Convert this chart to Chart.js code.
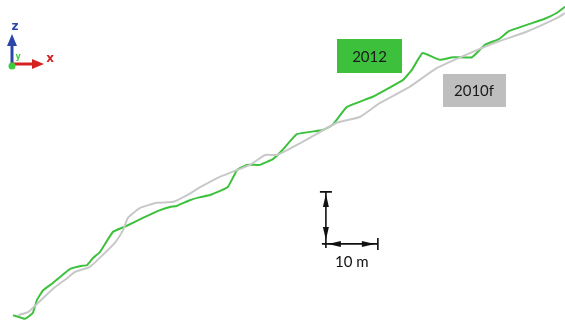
<!DOCTYPE html>
<html>
<head>
<meta charset="utf-8">
<script src="https://cdn.jsdelivr.net/npm/chart.js@4"></script>
<style>
  html, body { margin: 0; padding: 0; background: #fff; }
  #wrap { width: 565px; height: 324px; }
</style>
</head>
<body>
<div id="wrap"><canvas id="profileChart" width="565" height="324"></canvas></div>
<script>
// profile: distance along section (m) and height (m)
const profile2012X = [2.5, 4.8, 6.3, 7.1, 8.3, 10.2, 11.5, 13.5, 15.8, 16.7, 17.9, 19.2, 21.7, 24.0, 27.5, 30.8, 32.7, 34.0, 36.5, 38.5, 40.4, 43.8, 45.6, 47.5, 50.0, 52.5, 54.4, 57.1, 62.1, 64.0, 66.7, 71.7, 77.5, 79.2, 81.3, 84.6, 87.1, 90.8, 93.3, 96.0, 97.9, 101.9, 104.8, 107.1, 108.7];
const profile2012Z = [1.7, 1.0, 2.1, 4.6, 6.5, 7.9, 9.0, 10.6, 11.2, 11.3, 12.7, 13.8, 17.7, 18.7, 20.4, 21.9, 22.5, 22.7, 23.8, 24.4, 24.8, 26.3, 29.6, 30.6, 30.6, 31.7, 33.5, 36.5, 37.3, 38.3, 41.7, 43.7, 46.9, 48.8, 52.1, 50.8, 51.3, 51.3, 53.7, 54.8, 56.3, 57.7, 58.7, 59.8, 61.0];

const profile2010X = [3.5, 5.4, 6.3, 8.3, 10.6, 12.9, 14.4, 17.3, 19.8, 22.1, 23.7, 24.6, 26.9, 30.2, 33.3, 36.0, 38.5, 42.3, 48.1, 51.0, 53.3, 56.3, 59.6, 64.8, 69.2, 73.1, 78.8, 84.0, 90.4, 95.6, 101.3, 107.1, 108.7];
const profile2010Z = [1.7, 2.3, 3.1, 5.0, 7.1, 8.8, 10.0, 11.0, 13.3, 15.6, 18.1, 20.4, 22.3, 23.3, 23.5, 24.8, 26.3, 28.3, 30.6, 32.5, 32.5, 34.0, 35.8, 38.7, 39.8, 42.5, 45.6, 49.2, 52.1, 54.2, 56.2, 58.8, 59.8];

const seriesNames = ['2012', '2010f'];
const scaleBarLength = 10; // m
const scaleBarLabel = '10 m';

const toPoints = (xs, zs) => xs.map((x, i) => ({ x: x, y: zs[i] }));

const COLOR_2012 = '#3dc13d';
const COLOR_2010 = '#c8c8c8';

// labels, scale bar and orientation glyph drawn on top of the lines
const overlayPlugin = {
    id: 'overlay',
    afterDatasetsDraw(chart) {
        const c = chart.ctx;
        const xs = chart.scales.x, ys = chart.scales.y;
        const px = v => xs.getPixelForValue(v);
        const py = v => ys.getPixelForValue(v);

        // series tags
        function tag(text, cx, cy, w, h, fill) {
            const x = px(cx), y = py(cy);
            c.save();
            c.fillStyle = fill;
            c.fillRect(Math.round(x - w / 2), Math.round(y - h / 2), w, h);
            c.fillStyle = '#1a1a1a';
            c.font = '15px Lato, "Open Sans", sans-serif';
            c.textAlign = 'center';
            c.textBaseline = 'middle';
            c.fillText(text, x, y + 1);
            c.restore();
        }
        tag(seriesNames[0], 71.1, 51.5, 65, 34, COLOR_2012);
        tag(seriesNames[1], 91.2, 44.9, 63, 33, '#bebebe');

        // scale bar, 10 m in both directions
        const ox = px(62.7), oy = py(15.4);
        const ex = px(62.7 + scaleBarLength), ty = py(15.4 + scaleBarLength);
        c.save();
        c.strokeStyle = '#111';
        c.fillStyle = '#111';
        c.lineWidth = 1.6;
        c.beginPath();
        c.moveTo(ox, oy + 4); c.lineTo(ox, ty);
        c.moveTo(ox - 6, ty); c.lineTo(ox + 6, ty);
        c.moveTo(ox - 4, oy); c.lineTo(ex, oy);
        c.moveTo(ex, oy - 6); c.lineTo(ex, oy + 6);
        c.stroke();
        function head(x, y, dx, dy) {
            const len = 13, half = 3;
            c.beginPath();
            c.moveTo(x, y);
            c.lineTo(x - dx * len - dy * half, y - dy * len - dx * half);
            c.lineTo(x - dx * len + dy * half, y - dy * len + dx * half);
            c.closePath();
            c.fill();
        }
        head(ox, ty + 2, 0, -1);
        head(ox, oy - 4, 0, 1);
        head(ox + 2, oy, -1, 0);
        head(ex - 3, oy, 1, 0);
        c.font = '15px Lato, "Open Sans", sans-serif';
        c.textAlign = 'center';
        c.textBaseline = 'middle';
        c.fillText(scaleBarLabel, (ox + ex) / 2, oy + 18);
        c.restore();

        // orientation glyph (z up, x right, y into the page)
        const gx = 12, gy = 64;
        c.save();
        c.lineWidth = 3;
        c.strokeStyle = '#2b45a8'; c.fillStyle = '#2b45a8';
        c.beginPath(); c.moveTo(gx, gy); c.lineTo(gx, gy - 20); c.stroke();
        c.beginPath(); c.moveTo(gx, gy - 30); c.lineTo(gx - 5, gy - 18); c.lineTo(gx + 5, gy - 18); c.closePath(); c.fill();
        c.strokeStyle = '#d42222'; c.fillStyle = '#d42222';
        c.beginPath(); c.moveTo(gx, gy); c.lineTo(gx + 22, gy); c.stroke();
        c.beginPath(); c.moveTo(gx + 32, gy); c.lineTo(gx + 20, gy - 5); c.lineTo(gx + 20, gy + 5); c.closePath(); c.fill();
        c.fillStyle = '#3ccc3c';
        c.beginPath(); c.arc(gx, gy + 2, 3.5, 0, Math.PI * 2); c.fill();
        c.font = 'bold 12px "DejaVu Sans", sans-serif';
        c.textAlign = 'center'; c.textBaseline = 'middle';
        c.fillStyle = '#2b45a8'; c.fillText('z', gx + 3, gy - 37);
        c.fillStyle = '#d42222'; c.fillText('x', gx + 38, gy - 5);
        c.font = 'bold 8px "DejaVu Sans", sans-serif';
        c.fillStyle = '#3ccc3c'; c.fillText('y', gx + 6, gy - 7);
        c.restore();
    }
};

const ctx = document.getElementById('profileChart').getContext('2d');
new Chart(ctx, {
    type: 'line',
    data: {
        datasets: [{
            label: seriesNames[1],
            data: toPoints(profile2010X, profile2010Z),
            borderColor: COLOR_2010,
            borderWidth: 2,
            pointRadius: 0,
            tension: 0.15,
            fill: false
        }, {
            label: seriesNames[0],
            data: toPoints(profile2012X, profile2012Z),
            borderColor: COLOR_2012,
            borderWidth: 2,
            pointRadius: 0,
            tension: 0.1,
            fill: false
        }]
    },
    options: {
        responsive: false,
        animation: false,
        layout: { padding: 0 },
        scales: {
            x: { type: 'linear', min: 0, max: 108.7, display: false },
            y: { type: 'linear', min: 0, max: 62.3, display: false }
        },
        plugins: {
            legend: { display: false },
            tooltip: { enabled: false }
        }
    },
    plugins: [overlayPlugin]
});
</script>
</body>
</html>
